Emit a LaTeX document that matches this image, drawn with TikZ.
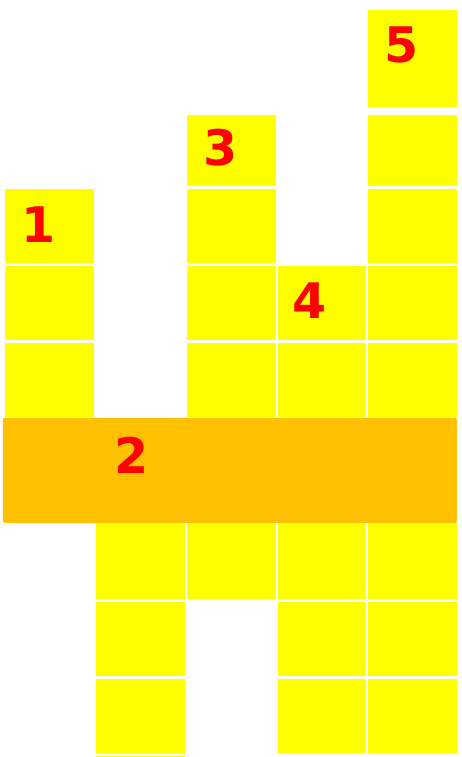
\documentclass[tikz,border=0pt]{standalone}
\usepackage{fontspec}
\newfontfamily\numfont{DejaVu Sans}
\usetikzlibrary{positioning}
\definecolor{cellyellow}{HTML}{FFFF00}
\definecolor{barorange}{HTML}{FFC000}
\definecolor{numred}{HTML}{FF0000}

\begin{document}
\begin{tikzpicture}[x=1pt, y=-1pt, node distance=2.5pt,
  cell/.style={rectangle, fill=cellyellow, inner sep=0pt, minimum width=88.5pt, minimum height=74pt, anchor=north west},
  bar/.style={rectangle, fill=barorange, rounded corners=2pt, inner sep=0pt, minimum width=454pt, minimum height=105pt, anchor=north west},
  num/.style={text=numred, font=\numfont\bfseries\fontsize{49}{49}\selectfont, inner sep=0pt, anchor=base}]

  \useasboundingbox (0,0) rectangle (462,757);
  \clip (0,0) rectangle (462,757);

  % Column 1
  \node [cell] (one) at (5,189) {};
  \node [cell, below=of one] (oneb) {};
  \node [cell, below=of oneb] (onec) {};

  % Column 2
  \node [cell, minimum height=76.5pt] (twoa) at (96,522.5) {};
  \node [cell, below=of twoa] (twob) {};
  \node [cell, below=of twob] (twoc) {};
  \node [cell, below=of twoc] (twod) {};

  % Column 3
  \node [cell, minimum height=71pt] (three) at (187,115) {};
  \node [cell, below=of three] (threeb) {};
  \node [cell, below=of threeb] (threec) {};
  \node [cell, below=of threec] (threed) {};
  \node [cell, minimum height=76.5pt] (threee) at (187,522.5) {};

  % Column 4
  \node [cell] (four) at (277.5,266) {};
  \node [cell, below=of four] (fourb) {};
  \node [cell, minimum height=76.5pt] (fourc) at (277.5,522.5) {};
  \node [cell, below=of fourc] (fourd) {};
  \node [cell, below=of fourd] (foure) {};

  % Column 5
  \node [cell, minimum height=97pt] (five) at (368,10) {};
  \node [cell, minimum height=71pt] (fiveb) at (368,115) {};
  \node [cell, below=of fiveb] (fivec) {};
  \node [cell, below=of fivec] (fived) {};
  \node [cell, below=of fived] (fivee) {};
  \node [cell, minimum height=76.5pt] (fivef) at (368,522.5) {};
  \node [cell, below=of fivef] (fiveg) {};
  \node [cell, below=of fiveg] (fiveh) {};

  % Bar
  \node [bar] (bar) at (2.7,417.7) {};

  % Numbers
  \node [num] (numone) at (39,242) {1};
  \node [num] (numtwo) at (131.5,473) {2};
  \node [num] (numthree) at (220.5,165) {3};
  \node [num] (numfour) at (310,318.5) {4};
  \node [num] (numfive) at (401.5,63) {5};

\end{tikzpicture}
\end{document}
